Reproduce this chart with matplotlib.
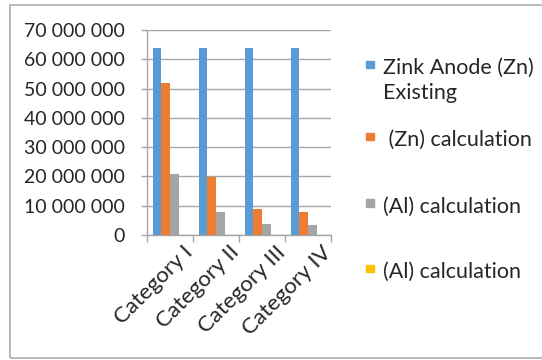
import matplotlib
matplotlib.use("Agg")
import matplotlib.pyplot as plt
import matplotlib.transforms as mtransforms
from matplotlib.patches import Rectangle
import numpy as np

plt.rcParams['font.family'] = ['Lato', 'DejaVu Sans']

categories = ['Category I', 'Category II', 'Category III', 'Category IV']
zn_existing = [64_000_000, 64_000_000, 64_000_000, 64_000_000]
zn_calc = [52_000_000, 19_800_000, 8_900_000, 7_700_000]
al_calc = [20_700_000, 7_700_000, 3_700_000, 3_400_000]
al_calc_2 = [0, 0, 0, 0]

series_labels = ['Zink Anode (Zn)\nExisting', ' (Zn) calculation',
                 '(Al) calculation', '(Al) calculation']
colors = ['#5B9BD5', '#ED7D31', '#A5A5A5', '#FFC000']
yticks = np.arange(0, 70_000_001, 10_000_000)

W, H = 542, 360
FS = 14
TXT = '#262626'
fig = plt.figure(figsize=(W / 100, H / 100), dpi=100)


def px(x, y):
    return x / W, 1 - y / H


ax = fig.add_axes([147 / W, 1 - 235 / H, (331 - 147) / W, (235 - 30) / H])

grid_c = '#A6A6A6'
x = np.arange(len(categories))
bar_w = 0.185
series = [zn_existing, zn_calc, al_calc, al_calc_2]
for i, (vals, c) in enumerate(zip(series, colors)):
    ax.bar(x + (i - 1.5) * bar_w, vals, width=bar_w, color=c, zorder=3)

ax.set_xlim(-0.5, 3.5)
ax.set_ylim(0, 70_000_000)
ax.set_yticks(yticks)
ax.set_yticklabels([f'{v:,}'.replace(',', ' ') for v in yticks])
ax.yaxis.grid(True, color=grid_c, lw=1.0, zorder=0)
ax.tick_params(axis='y', length=4, width=1, color=grid_c, pad=12,
               labelsize=FS, labelcolor=TXT)

# category boundaries carry the ticks, labels sit at centres
ax.set_xticks(np.arange(-0.5, 4, 1.0))
ax.set_xticklabels([])
ax.tick_params(axis='x', length=5, width=1, color=grid_c)
offset = mtransforms.ScaledTranslation(20 / 100, -14 / 100, fig.dpi_scale_trans)
for xi, name in zip(x, categories):
    ax.text(xi, 0, name, rotation=45, rotation_mode='anchor', ha='right',
            va='center', fontsize=16, color=TXT,
            transform=ax.get_xaxis_transform() + offset)

for side in ['top', 'right']:
    ax.spines[side].set_visible(False)
for side in ['left', 'bottom']:
    ax.spines[side].set_color(grid_c)
    ax.spines[side].set_linewidth(1.0)

# legend entries
legend_y = [64.5, 136.5, 203, 268.5]
LFS = 15.5
for ly, label, c in zip(legend_y, series_labels, colors):
    x0, y0 = px(366, ly + 3.7)
    fig.patches.append(Rectangle((x0, y0), 7.5 / W, 7.5 / H, color=c,
                                 transform=fig.transFigure, figure=fig))
    lines = label.split('\n')
    for k, line in enumerate(lines):
        tx, ty = px(383, ly + 9.5 + 25 * k)
        fig.text(tx, ty, line, fontsize=LFS, color=TXT, va='baseline')

# chart frame
fx, fy = px(10, 358)
fig.patches.append(Rectangle((fx, fy), 1.2, (358 - 4.5) / H, fill=False,
                             ec='#B4B4B4', lw=1.3, transform=fig.transFigure,
                             figure=fig))

fig.savefig('out.png', dpi=100)
